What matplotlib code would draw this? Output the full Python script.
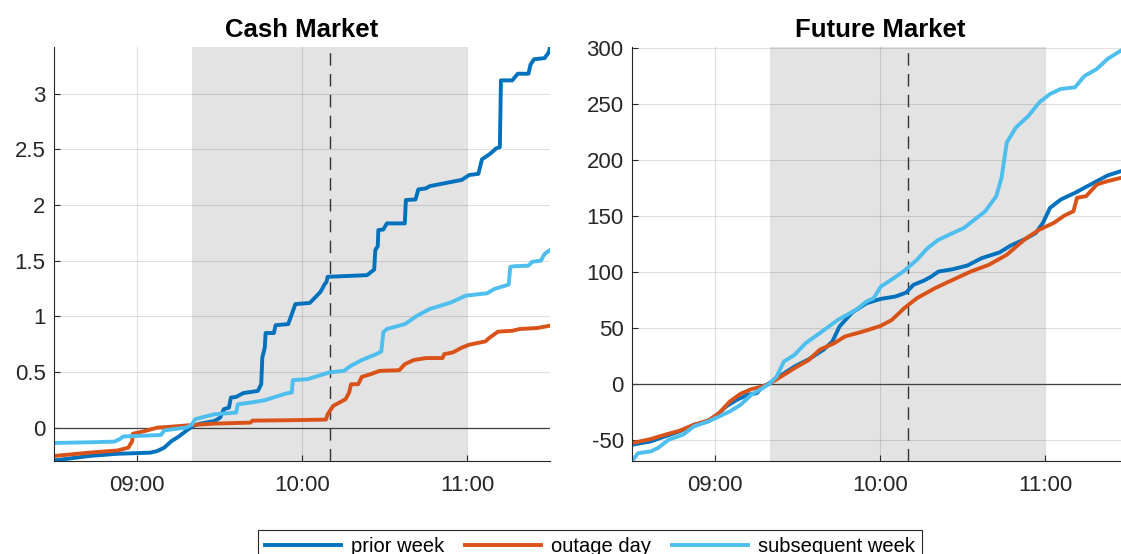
import numpy as np
import matplotlib
matplotlib.use('Agg')
import matplotlib.pyplot as plt
from matplotlib.ticker import FuncFormatter

plt.rcParams['font.family'] = ['Liberation Sans', 'DejaVu Sans']
plt.rcParams['axes.unicode_minus'] = False

# minutes after 08:30
cash_prior_t = [0, 12.8, 23, 35, 37.5, 40, 42.7, 45.3, 47.9, 50.5, 53, 58.3, 60.3, 61.6, 63.5, 64.2, 66,
                68.7, 74, 75.2, 75.6, 76.5, 76.8, 79.8, 80.4, 85, 86.3, 87.6, 92.8, 94.8, 96.7, 97.4, 98,
                98.9, 99.3, 113.6, 116.2, 116.6, 117.5, 117.7, 119.5, 120.8, 127.3, 127.7, 131.2, 132.2,
                135, 136.4, 148, 150.7, 154, 155.3, 158.5, 160.5, 161.8, 162.2, 166.3, 168.3, 172.2,
                172.9, 174.2, 178, 179.5, 180]
cash_prior_v = [-0.295, -0.255, -0.235, -0.225, -0.21, -0.18, -0.12, -0.08, -0.03, 0.015, 0.035, 0.06,
                0.09, 0.165, 0.18, 0.27, 0.275, 0.31, 0.33, 0.39, 0.63, 0.72, 0.85, 0.85, 0.92, 0.93, 1.02,
                1.11, 1.12, 1.17, 1.22, 1.25, 1.28, 1.31, 1.355, 1.37, 1.42, 1.595, 1.63, 1.775, 1.78,
                1.835, 1.835, 2.045, 2.05, 2.14, 2.15, 2.17, 2.226, 2.27, 2.28, 2.41, 2.465, 2.51, 2.52,
                3.12, 3.12, 3.18, 3.18, 3.26, 3.31, 3.32, 3.37, 3.415]

cash_outage_t = [0, 12.8, 23.2, 27, 28.4, 28.6, 32.3, 37.5, 41.4, 50.5, 58.3, 71.3, 72, 84.3, 98.7, 99.3,
                 101.3, 105.8, 107.1, 107.8, 110.4, 111.7, 114.9, 118.2, 125.3, 127.3, 130.5, 135, 141,
                 141.6, 144.8, 148.1, 150.7, 156.6, 157.9, 161.1, 166.3, 169, 175.4, 180]
cash_outage_v = [-0.255, -0.225, -0.205, -0.18, -0.12, -0.055, -0.035, 0.0, 0.006, 0.024, 0.036, 0.045,
                 0.063, 0.066, 0.072, 0.12, 0.195, 0.255, 0.315, 0.39, 0.39, 0.456, 0.48, 0.51, 0.516,
                 0.57, 0.607, 0.625, 0.625, 0.66, 0.676, 0.72, 0.745, 0.775, 0.805, 0.862, 0.87, 0.886,
                 0.895, 0.916]

cash_subseq_t = [0, 12.8, 21.9, 23.8, 25.1, 38.8, 40.1, 47.9, 49.9, 51.2, 55.7, 58.3, 66.1, 66.7, 71.3,
                 76.5, 80.4, 84.3, 86.3, 86.7, 92.2, 96, 100, 105.2, 107.8, 111.7, 116.9, 118.8, 119.5,
                 120.8, 127.3, 131.8, 136.4, 144.2, 149.4, 157.2, 159.8, 165, 165.6, 167, 172.2, 173.5,
                 176.7, 178, 180]
cash_subseq_v = [-0.138, -0.132, -0.126, -0.105, -0.08, -0.066, -0.024, 0.0, 0.024, 0.075, 0.105, 0.12,
                 0.135, 0.21, 0.225, 0.246, 0.277, 0.307, 0.316, 0.427, 0.436, 0.466, 0.496, 0.51, 0.556,
                 0.607, 0.66, 0.685, 0.856, 0.886, 0.93, 1.006, 1.066, 1.126, 1.186, 1.207, 1.246, 1.285,
                 1.444, 1.45, 1.455, 1.49, 1.5, 1.56, 1.595]

fut_prior_t = [0, 6.8, 12, 17.2, 22.5, 27.7, 30.3, 34.2, 38.1, 42, 45.3, 47.3, 49.9, 53.8, 59, 64.2,
               69.5, 72.7, 75.3, 79.9, 85.1, 90.3, 95.6, 99.5, 102.1, 106, 108.6, 111.2, 116.4, 121.7,
               126.9, 133.4, 137.3, 142.6, 146.5, 149.1, 151.7, 155.6, 160.8, 164.8, 168.7, 172.6,
               177.5, 180]
fut_prior_v = [-54.5, -51.5, -47, -42.6, -36.6, -33.6, -29.2, -20.2, -14.3, -9.8, -8.3, -3, 0.6, 7.1,
               15.5, 22, 30.4, 37.8, 51.2, 63.7, 72, 75.9, 78, 81.5, 88.4, 92.3, 95.8, 100.3, 102.4, 105.7,
               112.3, 117.4, 123.4, 129.3, 134.7, 143.7, 157.2, 164.7, 170.7, 176, 181.1, 186.2, 190.1,
               191.5]

fut_outage_t = [0, 6.8, 12, 17.2, 22.5, 27.7, 31.6, 35.5, 39.4, 43.3, 47.3, 49.9, 53.8, 59, 64.2, 68.1,
                73.4, 77.3, 83.8, 90.3, 94.3, 98.8, 103.4, 109.9, 116.4, 122.9, 129.5, 136, 142.6,
                147.8, 153, 156.9, 160.2, 161.5, 164.8, 168.7, 172.6, 177.5, 180]
fut_outage_v = [-53, -49.4, -45.5, -42, -36.6, -32.7, -26.2, -15.8, -8.9, -4.8, -2.4, 0, 6, 14, 21.4,
                30.4, 36.3, 42.3, 46.7, 51.8, 57.1, 67.6, 76.5, 85.4, 92.9, 100.3, 106.3, 115.3, 129.3,
                137.7, 143.7, 150.3, 154.2, 166.2, 167.7, 178.1, 181.1, 184.1, 185]

fut_subseq_t = [0, 2.2, 6.8, 9.4, 13.3, 18.5, 22.5, 27.7, 31.6, 35.5, 39.4, 43.3, 47.3, 49.9, 52.5,
                55.1, 59, 63, 68.1, 74.7, 81.2, 85.1, 87.7, 90.3, 94.9, 98.8, 103.4, 107.3, 111.2,
                116.4, 120.4, 124.3, 128.2, 132.2, 134.1, 136, 139.3, 143.9, 147.8, 151.7, 155.6,
                160.8, 164.1, 168.7, 172.6, 177.5, 180]
fut_subseq_v = [-69, -62, -60.4, -57.4, -50, -45.5, -38, -33.6, -29.2, -24.7, -18.8, -9.8, -3.9, 0,
                6.5, 19.9, 25.9, 36.3, 45.2, 57.1, 66, 73.5, 76.5, 86.9, 94.3, 101, 110.8, 121.3, 128.7,
                134.7, 139.2, 146.7, 154.2, 167.7, 184.1, 215.6, 229, 239.5, 251.5, 259, 263.5, 265,
                274.9, 281.4, 290.4, 297.9, 300.5]

labels = ['prior week', 'outage day', 'subsequent week']
colors = ['#0072BD', '#D95319', '#4DBEEE']
shade_start, shade_end, event = 50, 150, 100   # minutes after 08:30

panels = [
    ('Cash Market', [(cash_prior_t, cash_prior_v), (cash_outage_t, cash_outage_v), (cash_subseq_t, cash_subseq_v)],
     (-0.3, 3.42), [0, 0.5, 1, 1.5, 2, 2.5, 3]),
    ('Future Market', [(fut_prior_t, fut_prior_v), (fut_outage_t, fut_outage_v), (fut_subseq_t, fut_subseq_v)],
     (-69, 301), [-50, 0, 50, 100, 150, 200, 250, 300]),
]

fig = plt.figure(figsize=(11.21, 5.54), dpi=100)
W, H = 1121, 554
lefts = [54, 632]
handles = []
for (title, series, ylim, yticks), lx in zip(panels, lefts):
    ax = fig.add_axes([lx / W, 1 - 461 / H, 496 / W, 414 / H])
    ax.axvspan(shade_start, shade_end, color='#e3e3e3', zorder=0.5, lw=0)
    ax.axhline(0, color='#404040', lw=0.9, zorder=1.8)
    ax.axvline(event, color='#333333', lw=1.0, ls=(0, (9, 6)), zorder=1.8)
    handles = []
    for (t, v), c, lab in zip(series, colors, labels):
        h, = ax.plot(t, v, color=c, lw=2.8, label=lab, zorder=2)
        handles.append(h)
    ax.set_xlim(0, 180)
    ax.set_ylim(*ylim)
    ax.set_xticks([30, 90, 150])
    ax.set_xticklabels(['09:00', '10:00', '11:00'])
    ax.set_yticks(yticks)
    ax.yaxis.set_major_formatter(FuncFormatter(lambda v, p: '%g' % v))
    ax.grid(True, color='k', alpha=0.12, lw=0.8)
    for s in ['top', 'right']:
        ax.spines[s].set_visible(False)
    for s in ['left', 'bottom']:
        ax.spines[s].set_color('#262626')
        ax.spines[s].set_linewidth(0.8)
    ax.tick_params(direction='in', length=4, width=0.8, colors='#262626', labelsize=16)
    ax.tick_params(axis='x', pad=10)
    ax.tick_params(axis='y', pad=6)
    ax.set_title(title, fontsize=18.5, fontweight='bold', pad=7)

leg = fig.legend(handles, labels, loc='upper center', bbox_to_anchor=(590 / W, 1 - 520 / H), ncol=3,
                 fontsize=14.5, fancybox=False, framealpha=1, edgecolor='#262626', handlelength=3.8,
                 columnspacing=1.0, handletextpad=0.5, borderpad=0.35)
leg.get_frame().set_linewidth(0.8)

fig.savefig('out.png', dpi=100)
